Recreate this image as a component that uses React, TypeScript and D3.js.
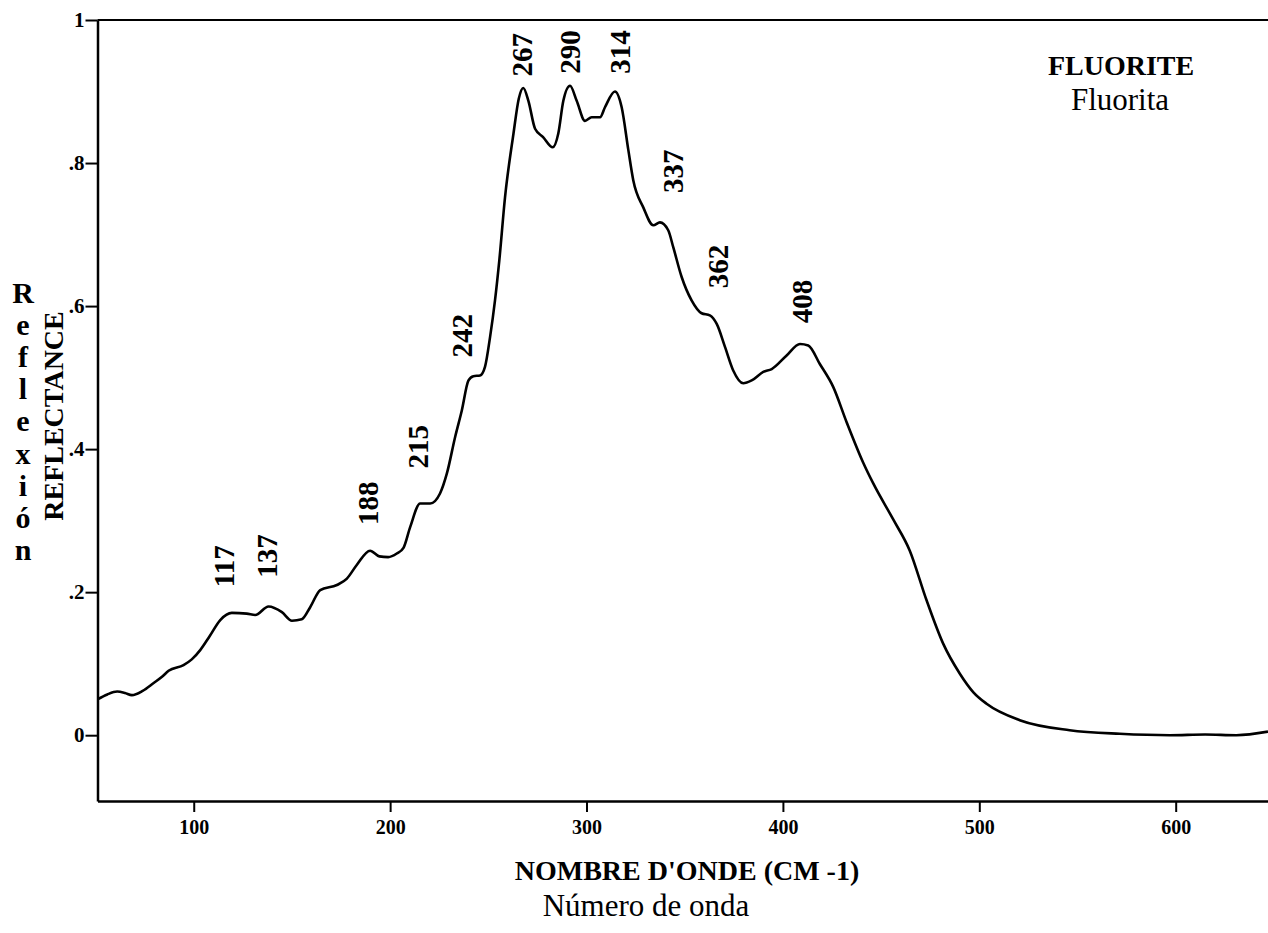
import React, { useEffect, useRef } from "react";
import * as d3 from "d3";

// wavenumber (cm-1) and reflectance
const waveNumber = [
  51, 56, 61, 65, 68.5, 74, 79.6, 84, 87.2, 94.8, 99, 103.3, 108, 113.5, 119.4,
  127, 131.3, 138.1, 144.9, 150, 155, 159.3, 164.4, 172.9, 178, 183, 189.8,
  194.5, 199, 203.4, 206.8, 210.2, 215.3, 220.4, 225.4, 228.9, 233.1, 236.5,
  239.9, 242.4, 245.8, 248.3, 250.9, 253.4, 255.6, 258.5, 262.8, 265.5, 267.8,
  270.4, 273.8, 278, 282.8, 285.6, 288.2, 291.6, 295, 299.2, 302.6, 306.9,
  309.4, 314.5, 317.9, 321.3, 323.8, 328.9, 334, 337.4, 341.6, 344.2, 348.4,
  353.5, 358.6, 362.8, 366.3, 370.5, 374.7, 379.8, 384.1, 390, 394.3, 401.9,
  408.7, 412.9, 418.8, 425.6, 432.4, 440.9, 446, 456.1, 464.6, 473.1, 481.6,
  490.1, 497, 503.7, 520.6, 546, 571.5, 597, 615, 630.9, 647,
];
const reflectance = [
  0.05, 0.057, 0.061, 0.059, 0.056, 0.062, 0.073, 0.082, 0.09, 0.098, 0.106,
  0.119, 0.138, 0.161, 0.171, 0.17, 0.168, 0.18, 0.172, 0.16, 0.162, 0.179,
  0.203, 0.21, 0.219, 0.238, 0.258, 0.25, 0.249, 0.254, 0.262, 0.291, 0.324,
  0.324, 0.338, 0.366, 0.417, 0.454, 0.496, 0.502, 0.503, 0.515, 0.557, 0.608,
  0.664, 0.752, 0.841, 0.89, 0.905, 0.887, 0.848, 0.836, 0.822, 0.841, 0.887,
  0.908, 0.887, 0.859, 0.864, 0.864, 0.878, 0.9, 0.878, 0.818, 0.776, 0.738,
  0.713, 0.717, 0.706, 0.682, 0.641, 0.608, 0.59, 0.587, 0.575, 0.543, 0.51,
  0.492, 0.496, 0.508, 0.512, 0.531, 0.547, 0.545, 0.519, 0.487, 0.438, 0.381,
  0.352, 0.302, 0.258, 0.189, 0.128, 0.086, 0.06, 0.044, 0.021, 0.007, 0.002, 0,
  0.001, 0, 0.005,
];

// peak annotations: text, where the label sits (cm-1, reflectance)
const peakLabels = ["117", "137", "188", "215", "242", "267", "290", "314", "337", "362", "408"];
const peakLabelX = [115.3, 137.2, 188.6, 214.1, 236.5, 267, 291.4, 316.9, 343.9, 366.8, 409.6];
const peakLabelY = [0.207, 0.22, 0.294, 0.373, 0.528, 0.921, 0.925, 0.925, 0.758, 0.625, 0.576];

const xTicks = [100, 200, 300, 400, 500, 600];
const yTicks = [0, 0.2, 0.4, 0.6, 0.8, 1];
const yTitleEs = "Reflexión".split("");

const W = 1268;
const H = 933;
const FONT = "'Liberation Serif', 'Times New Roman', serif";

export default function App() {
  const xAxisRef = useRef<SVGGElement>(null);
  const yAxisRef = useRef<SVGGElement>(null);

  const margin = { left: 97.5, right: 0, top: 20, bottom: H - 801 };

  const x = d3.scaleLinear().domain([51, 647]).range([margin.left, W - margin.right]);
  const y = d3.scaleLinear().domain([-0.092, 1]).range([H - margin.bottom, margin.top]);

  const points = waveNumber.map((w, i) => [w, reflectance[i]] as [number, number]);
  const line = d3
    .line<[number, number]>()
    .x((d) => x(d[0]))
    .y((d) => y(d[1]))
    .curve(d3.curveMonotoneX);

  useEffect(() => {
    const fmtY = (d: d3.NumberValue) => {
      const v = +d;
      if (v === 0) return "0";
      if (v === 1) return "1";
      return String(v).replace(/^0/, "");
    };

    const gx = d3.select(xAxisRef.current!);
    gx.call(
      d3.axisBottom(x).tickValues(xTicks).tickSize(11).tickSizeOuter(0).tickPadding(8).tickFormat(d3.format("d"))
    );
    gx.select(".domain").attr("stroke-width", 2.5);
    gx.selectAll(".tick line").attr("stroke-width", 2);
    gx.selectAll(".tick text")
      .attr("font-family", FONT)
      .attr("font-size", 20)
      .attr("font-weight", "bold")
      .attr("fill", "#000");

    const gy = d3.select(yAxisRef.current!);
    gy.call(d3.axisLeft(y).tickValues(yTicks).tickSize(12).tickSizeOuter(0).tickPadding(1).tickFormat(fmtY));
    gy.select(".domain").attr("stroke-width", 2.5);
    gy.selectAll(".tick line").attr("stroke-width", 2);
    gy.selectAll(".tick text")
      .attr("font-family", FONT)
      .attr("font-size", 21)
      .attr("font-weight", "bold")
      .attr("fill", "#000");
  }, []);

  return (
    <svg
      width={W}
      height={H}
      viewBox={`0 0 ${W} ${H}`}
      style={{ position: "absolute", left: 0, top: 0, background: "#fff" }}
      fontFamily={FONT}
    >
      <rect width={W} height={H} fill="#fff" />

      {/* top frame line */}
      <line x1={margin.left} x2={W} y1={y(1)} y2={y(1)} stroke="#000" strokeWidth={2} />

      <g ref={xAxisRef} transform={`translate(0, ${H - margin.bottom})`} />
      <g ref={yAxisRef} transform={`translate(${margin.left}, 0)`} />

      <path d={line(points) ?? ""} fill="none" stroke="#000" strokeWidth={2.6} strokeLinejoin="round" />

      {/* peak labels */}
      {peakLabels.map((t, i) => (
        <text
          key={t}
          transform={`translate(${x(peakLabelX[i])}, ${y(peakLabelY[i])}) rotate(-90)`}
          dy="0.35em"
          fontSize={29}
          fontWeight="bold"
        >
          {t}
        </text>
      ))}

      {/* mineral name */}
      <text x={1121} y={75} textAnchor="middle" fontSize={28} fontWeight="bold">
        FLUORITE
      </text>
      <text x={1120} y={110} textAnchor="middle" fontSize={31}>
        Fluorita
      </text>

      {/* axis titles */}
      <text x={687} y={880} textAnchor="middle" fontSize={28} fontWeight="bold">
        NOMBRE D'ONDE (CM -1)
      </text>
      <text x={646} y={916} textAnchor="middle" fontSize={31}>
        Número de onda
      </text>

      <text transform="translate(63, 416) rotate(-90)" textAnchor="middle" fontSize={28} fontWeight="bold">
        REFLECTANCE
      </text>
      {yTitleEs.map((c, i) => (
        <text key={i} x={23} y={303 + i * 32.1} textAnchor="middle" fontSize={30} fontWeight="bold">
          {c}
        </text>
      ))}
    </svg>
  );
}
